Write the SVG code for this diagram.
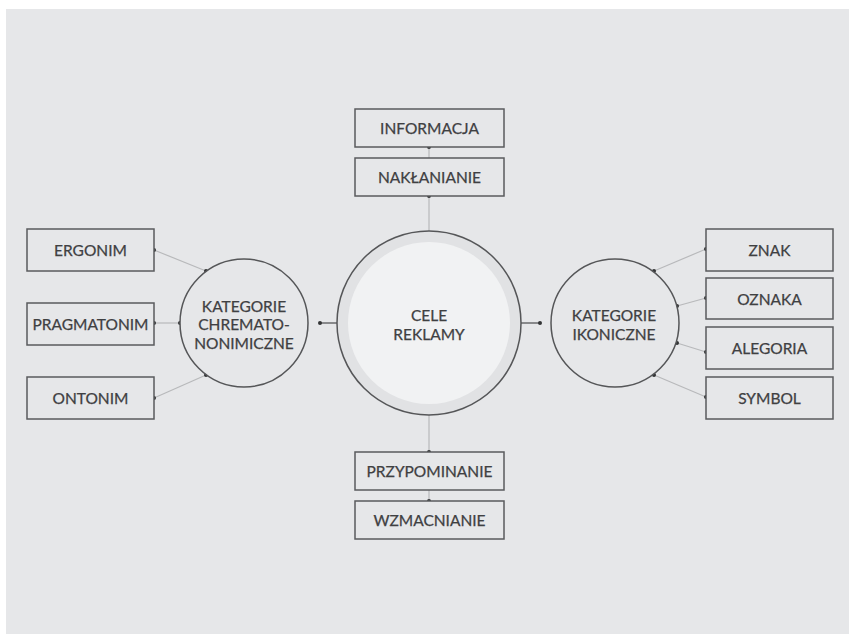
<svg xmlns="http://www.w3.org/2000/svg" width="849" height="634" viewBox="0 0 849 634">
<defs>
<style>
.box{fill:#e6e7e9;stroke:#5a5b5d;stroke-width:1.5}
.circ{fill:#e6e7e9;stroke:#555658;stroke-width:1.5}
.t{font-family:Lato,"Liberation Sans",sans-serif;font-size:15.5px;fill:#3f4042;text-anchor:middle;stroke:#3f4042;stroke-width:0.25}
.ln{stroke:#b8b9bb;stroke-width:1.2;fill:none}
.dk{stroke:#4a4b4d;stroke-width:1.2;fill:none}
.dot{fill:#333436}
</style>
</defs>
<rect x="0" y="0" width="849" height="634" fill="#ffffff"/>
<rect x="6" y="9" width="843" height="625" fill="#e6e7e9"/>

<g id="connectors">
<line class="ln" x1="429" y1="147" x2="429" y2="158"/>
<line class="ln" x1="429" y1="196" x2="429" y2="231"/>
<line class="ln" x1="429" y1="415" x2="429" y2="452"/>
<line class="ln" x1="429" y1="490" x2="429" y2="501"/>
<line class="dk" x1="320" y1="323" x2="337" y2="323"/>
<line class="dk" x1="521" y1="323" x2="540" y2="323"/>
<line class="ln" x1="154" y1="250" x2="206" y2="271"/>
<line class="ln" x1="154" y1="323" x2="180" y2="323"/>
<line class="ln" x1="154" y1="398" x2="206" y2="375"/>
<line class="ln" x1="706" y1="249" x2="654" y2="271"/>
<line class="ln" x1="706" y1="298" x2="677" y2="306"/>
<line class="ln" x1="706" y1="352" x2="677" y2="343"/>
<line class="ln" x1="706" y1="397" x2="654" y2="375"/>
<circle class="dot" cx="429" cy="147" r="2"/>
<circle class="dot" cx="429" cy="196" r="2"/>
<circle class="dot" cx="429" cy="452" r="2"/>
<circle class="dot" cx="429" cy="501" r="2"/>
<circle class="dot" cx="320" cy="323" r="2"/>
<circle class="dot" cx="540" cy="323" r="2"/>
<circle class="dot" cx="154" cy="250" r="2"/>
<circle class="dot" cx="206" cy="271" r="2"/>
<circle class="dot" cx="154" cy="323" r="2"/>
<circle class="dot" cx="180" cy="323" r="2"/>
<circle class="dot" cx="154" cy="398" r="2"/>
<circle class="dot" cx="206" cy="375" r="2"/>
<circle class="dot" cx="706" cy="249" r="2"/>
<circle class="dot" cx="654" cy="271" r="2"/>
<circle class="dot" cx="706" cy="298" r="2"/>
<circle class="dot" cx="677" cy="306" r="2"/>
<circle class="dot" cx="706" cy="352" r="2"/>
<circle class="dot" cx="677" cy="343" r="2"/>
<circle class="dot" cx="706" cy="397" r="2"/>
<circle class="dot" cx="654" cy="375" r="2"/>
</g>

<g id="cele-reklamy">
<circle cx="429" cy="323" r="92" fill="#e1e2e4" stroke="#555658" stroke-width="1.5"/>
<circle cx="429" cy="323" r="81" fill="#f1f2f3"/>
<text class="t" x="429" y="321">CELE</text>
<text class="t" x="429" y="339.5">REKLAMY</text>
</g>

<g id="kategorie-chrematonimiczne">
<circle class="circ" cx="244" cy="323" r="64"/>
<text class="t" x="244" y="312">KATEGORIE</text>
<text class="t" x="244" y="330">CHREMATO-</text>
<text class="t" x="244" y="348.5">NONIMICZNE</text>
</g>

<g id="kategorie-ikoniczne">
<circle class="circ" cx="615" cy="323" r="64"/>
<text class="t" x="614" y="321">KATEGORIE</text>
<text class="t" x="614" y="339.5">IKONICZNE</text>
</g>

<g id="informacja">
<rect class="box" x="355" y="109" width="149" height="38"/>
<text class="t" x="429.5" y="134">INFORMACJA</text>
</g>
<g id="naklanianie">
<rect class="box" x="355" y="158" width="149" height="38"/>
<text class="t" x="429.5" y="183">NAKŁANIANIE</text>
</g>
<g id="przypominanie">
<rect class="box" x="355" y="452" width="149" height="38"/>
<text class="t" x="429.5" y="477">PRZYPOMINANIE</text>
</g>
<g id="wzmacnianie">
<rect class="box" x="355" y="501" width="149" height="38"/>
<text class="t" x="429.5" y="526">WZMACNIANIE</text>
</g>

<g id="ergonim">
<rect class="box" x="27" y="229" width="127" height="42"/>
<text class="t" x="90.5" y="256">ERGONIM</text>
</g>
<g id="pragmatonim">
<rect class="box" x="27" y="303" width="127" height="42"/>
<text class="t" x="90.5" y="329.5">PRAGMATONIM</text>
</g>
<g id="ontonim">
<rect class="box" x="27" y="377" width="127" height="42"/>
<text class="t" x="90.5" y="403.5">ONTONIM</text>
</g>

<g id="znak">
<rect class="box" x="706" y="229" width="127" height="42"/>
<text class="t" x="769.5" y="256">ZNAK</text>
</g>
<g id="oznaka">
<rect class="box" x="706" y="278" width="127" height="41"/>
<text class="t" x="769.5" y="304.5">OZNAKA</text>
</g>
<g id="alegoria">
<rect class="box" x="706" y="327" width="127" height="42"/>
<text class="t" x="769.5" y="353.5">ALEGORIA</text>
</g>
<g id="symbol">
<rect class="box" x="706" y="377" width="127" height="42"/>
<text class="t" x="769.5" y="403.5">SYMBOL</text>
</g>
</svg>
